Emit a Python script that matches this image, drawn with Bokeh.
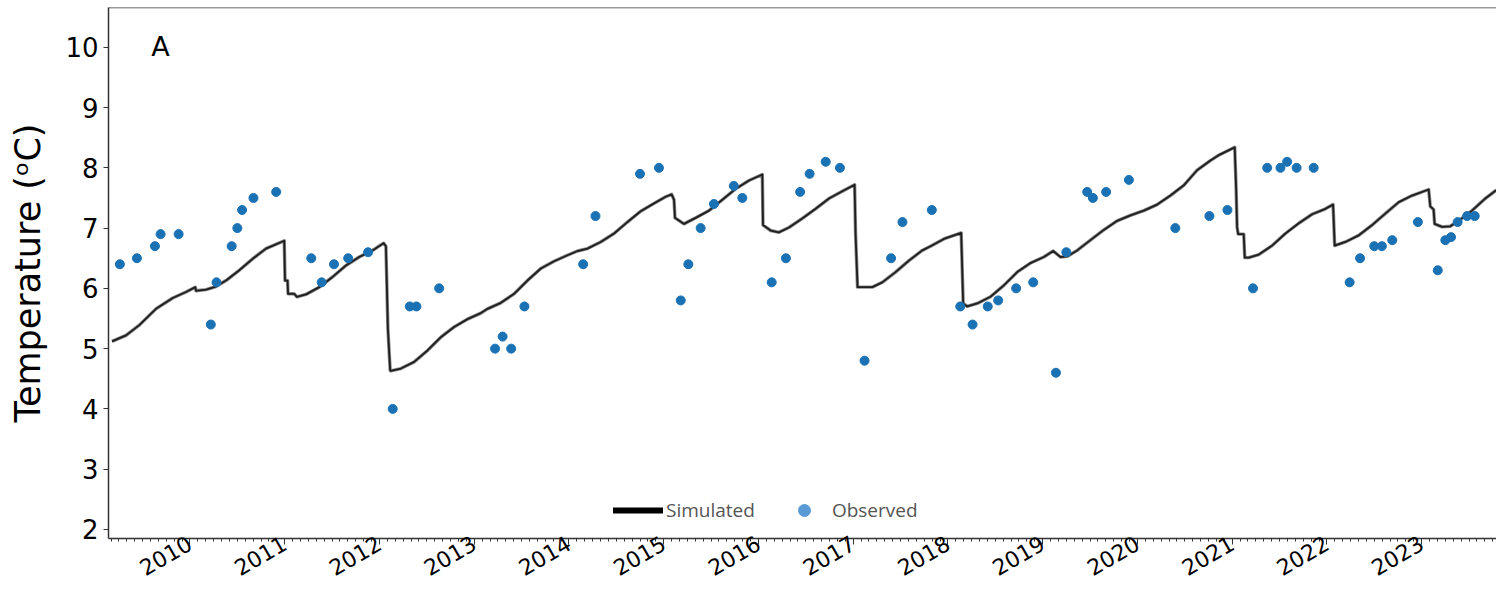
import numpy as np
from bokeh.plotting import figure
from bokeh.models import (FixedTicker, Legend, LegendItem, Label, Span, Range1d)
from bokeh.embed import file_html
from bokeh.resources import INLINE

# Simulated temperature (decimal year, degC)
sim_year = [2009.177, 2009.325, 2009.465, 2009.641, 2009.818, 2009.958, 2010.056,
            2010.063, 2010.169, 2010.274, 2010.380, 2010.520, 2010.661, 2010.802, 2010.995,
            2011.003, 2011.030, 2011.035, 2011.100, 2011.129, 2011.224, 2011.364, 2011.505,
            2011.646, 2011.786, 2011.927, 2012.043, 2012.068, 2012.089, 2012.113, 2012.120,
            2012.226, 2012.366, 2012.507, 2012.648, 2012.788, 2012.929, 2013.070, 2013.140,
            2013.281, 2013.421, 2013.562, 2013.703, 2013.843, 2013.984, 2014.090, 2014.195,
            2014.335, 2014.476, 2014.617, 2014.757, 2014.898, 2015.021, 2015.084, 2015.109,
            2015.119, 2015.214, 2015.338, 2015.478, 2015.619, 2015.759, 2015.900, 2016.041,
            2016.048, 2016.129, 2016.216, 2016.322, 2016.463, 2016.603, 2016.744, 2016.885,
            2017.015, 2017.025, 2017.046, 2017.131, 2017.201, 2017.307, 2017.447, 2017.588,
            2017.729, 2017.816, 2017.957, 2018.140, 2018.161, 2018.204, 2018.309, 2018.449,
            2018.590, 2018.731, 2018.871, 2019.012, 2019.111, 2019.188, 2019.259, 2019.364,
            2019.504, 2019.645, 2019.786, 2019.926, 2020.067, 2020.208, 2020.348, 2020.489,
            2020.630, 2020.770, 2020.858, 2021.027, 2021.042, 2021.052, 2021.063, 2021.122,
            2021.133, 2021.175, 2021.281, 2021.422, 2021.562, 2021.703, 2021.844, 2021.984,
            2022.065, 2022.082, 2022.195, 2022.336, 2022.477, 2022.616, 2022.758, 2022.899,
            2023.074, 2023.091, 2023.126, 2023.137, 2023.215, 2023.302, 2023.390, 2023.532,
            2023.671, 2023.787]
sim_temp = [5.12, 5.22, 5.39, 5.66, 5.84, 5.94, 6.02,
            5.96, 5.98, 6.03, 6.13, 6.30, 6.49, 6.66, 6.79,
            6.13, 6.13, 5.91, 5.91, 5.86, 5.90, 6.02, 6.19,
            6.38, 6.52, 6.63, 6.75, 6.70, 5.33, 4.64, 4.63,
            4.67, 4.78, 4.97, 5.19, 5.36, 5.49, 5.59, 5.66,
            5.76, 5.91, 6.13, 6.33, 6.45, 6.55, 6.62, 6.66,
            6.77, 6.91, 7.10, 7.28, 7.41, 7.52, 7.56, 7.47,
            7.17, 7.07, 7.17, 7.29, 7.47, 7.65, 7.79, 7.89,
            7.05, 6.96, 6.93, 7.01, 7.16, 7.32, 7.49, 7.61,
            7.72, 6.91, 6.02, 6.02, 6.02, 6.10, 6.27, 6.46,
            6.63, 6.70, 6.82, 6.92, 5.75, 5.70, 5.75, 5.86,
            6.05, 6.27, 6.42, 6.52, 6.62, 6.52, 6.53, 6.63,
            6.80, 6.97, 7.12, 7.21, 7.29, 7.39, 7.54, 7.71,
            7.96, 8.12, 8.21, 8.34, 7.64, 7.02, 6.90, 6.90,
            6.51, 6.51, 6.56, 6.71, 6.91, 7.08, 7.23, 7.32,
            7.39, 6.71, 6.77, 6.88, 7.05, 7.24, 7.43, 7.54,
            7.64, 7.36, 7.31, 7.07, 7.02, 7.03, 7.12, 7.29,
            7.49, 7.63]

# Observed temperature (decimal year, degC)
obs_year = [2009.26, 2009.44, 2009.63, 2009.69, 2009.88, 2010.22, 2010.28, 2010.44,
            2010.50, 2010.55, 2010.67, 2010.91, 2011.28, 2011.39, 2011.52, 2011.67,
            2011.88, 2012.14, 2012.32, 2012.39, 2012.63, 2013.22, 2013.30, 2013.39,
            2013.53, 2014.15, 2014.28, 2014.75, 2014.95, 2015.18, 2015.26, 2015.39,
            2015.53, 2015.74, 2015.83, 2016.14, 2016.29, 2016.44, 2016.54, 2016.71,
            2016.86, 2017.12, 2017.40, 2017.52, 2017.83, 2018.13, 2018.26, 2018.42,
            2018.53, 2018.72, 2018.90, 2019.14, 2019.25, 2019.47, 2019.53, 2019.67,
            2019.91, 2020.40, 2020.76, 2020.95, 2021.22, 2021.37, 2021.51, 2021.58,
            2021.68, 2021.86, 2022.24, 2022.35, 2022.50, 2022.58, 2022.69, 2022.96,
            2023.17, 2023.25, 2023.31, 2023.38, 2023.48, 2023.56]
obs_temp = [6.4, 6.5, 6.7, 6.9, 6.9, 5.4, 6.1, 6.7,
            7.0, 7.3, 7.5, 7.6, 6.5, 6.1, 6.4, 6.5,
            6.6, 4.0, 5.7, 5.7, 6.0, 5.0, 5.2, 5.0,
            5.7, 6.4, 7.2, 7.9, 8.0, 5.8, 6.4, 7.0,
            7.4, 7.7, 7.5, 6.1, 6.5, 7.6, 7.9, 8.1,
            8.0, 4.8, 6.5, 7.1, 7.3, 5.7, 5.4, 5.7,
            5.8, 6.0, 6.1, 4.6, 6.6, 7.6, 7.5, 7.6,
            7.8, 7.0, 7.2, 7.3, 6.0, 8.0, 8.0, 8.1,
            8.0, 8.0, 6.1, 6.5, 6.7, 6.7, 6.8, 7.1,
            6.3, 6.8, 6.85, 7.1, 7.2, 7.2]

years = list(range(2010, 2025))
year_labels = [str(y) for y in years]
y_ticks = [2, 3, 4, 5, 6, 7, 8, 9, 10]

p = figure(width=1496, height=591, output_backend="svg", toolbar_location=None,
           x_range=Range1d(2009.14, 2023.79), y_range=Range1d(1.85, 10.66),
           min_border_left=108, min_border_right=0, min_border_top=7,
           min_border_bottom=53)
p.outline_line_color = None
p.grid.grid_line_color = None
p.background_fill_color = "white"

# simulated series: grey band with a dark core
p.line(sim_year, sim_temp, line_width=3.4, line_color="#6a6a6a", line_alpha=0.8,
       line_join="round")
p.line(sim_year, sim_temp, line_width=1.8, line_color="#1e1e1e", line_join="round")

# observed series
p.scatter(obs_year, obs_temp, size=9, fill_color="#1a72b5", line_color="#1a72b5")

# top frame line
p.add_layout(Span(location=10.66, dimension="width", line_color="#333333", line_width=1.5))

# x axis: yearly major ticks, monthly minor ticks
minor = [y + m / 12 for y in range(2009, 2025) for m in range(12)]
p.xaxis.ticker = FixedTicker(ticks=years, minor_ticks=minor)
p.xaxis.major_label_overrides = {y: s for y, s in zip(years, year_labels)}
p.xaxis.major_label_orientation = np.pi / 6
p.xaxis.major_label_text_font = "DejaVu Sans"
p.xaxis.major_label_text_font_size = "22px"
p.xaxis.major_label_text_color = "black"
p.xaxis.major_tick_out = 6
p.xaxis.major_tick_in = 0
p.xaxis.minor_tick_out = 3
p.xaxis.minor_tick_in = 0
p.xaxis.major_label_standoff = -3

# y axis
p.yaxis.ticker = FixedTicker(ticks=y_ticks)
p.yaxis.major_label_text_font = "DejaVu Sans"
p.yaxis.major_label_text_font_size = "26px"
p.yaxis.major_label_text_color = "black"
p.yaxis.major_tick_out = 5
p.yaxis.major_tick_in = 0
p.yaxis.minor_tick_line_color = None
p.yaxis.major_label_standoff = 5
p.yaxis.axis_label = "Temperature (ᵒC)"
p.yaxis.axis_label_text_font = "DejaVu Sans"
p.yaxis.axis_label_text_font_style = "normal"
p.yaxis.axis_label_text_font_size = "35px"
p.yaxis.axis_label_text_color = "black"
p.yaxis.axis_label_standoff = 14

for ax in (p.xaxis, p.yaxis):
    ax.axis_line_color = "#333333"
    ax.axis_line_width = 1.5
    ax.major_tick_line_color = "#333333"
p.xaxis.minor_tick_line_color = "#333333"

# panel letter
p.add_layout(Label(x=2009.59, y=10.02, text="A", text_font="DejaVu Sans",
                   text_font_size="27px", text_color="black",
                   text_baseline="alphabetic"))

# legend with its own glyph styling (renderers hold no visible data)
leg_line = p.line([np.nan], [np.nan], line_width=6, line_color="black", line_cap="round")
leg_dot = p.scatter([np.nan], [np.nan], size=13, fill_color="#5b9bd5", line_color="#5b9bd5")
legend = Legend(items=[LegendItem(label="Simulated", renderers=[leg_line]),
                       LegendItem(label="Observed", renderers=[leg_dot])],
                orientation="horizontal", location=(505, 13),
                glyph_width=50, glyph_height=30, label_height=20,
                label_standoff=3, spacing=24, padding=0, margin=0,
                border_line_color=None, background_fill_alpha=0,
                label_text_font="Open Sans", label_text_font_size="19px",
                label_text_color="#555555")
p.add_layout(legend)

open("out.html", "w").write(file_html(p, INLINE))
